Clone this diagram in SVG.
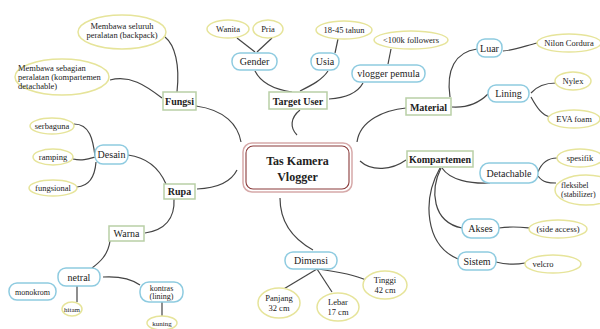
<svg xmlns="http://www.w3.org/2000/svg" width="600" height="329" viewBox="0 0 600 329">
<style>
text{font-family:"Liberation Serif","Times New Roman",serif;fill:#222;text-anchor:middle}
.box rect{fill:#fff;stroke:#b9cfa6;stroke-width:1.5}
.box text{font-weight:bold;font-size:10px}
.pill rect{fill:#fff;stroke:#8ecbe0;stroke-width:1.5}
.pill text{font-size:10px}
.leaf ellipse{fill:#fff;stroke:#e6e49a;stroke-width:1.5}
.leaf text{font-size:8.5px}
.pill text.s8{font-size:8px}
.leaf text.s8{font-size:8px}
.leaf text.s7{font-size:7px}
.st{text-anchor:start}
.conn path,.conn line{fill:none;stroke:#444;stroke-width:1.2}
</style>
<rect width="600" height="329" fill="#fff"/>
<g id="connectors" class="conn">
<path d="M196,106 C225,110 238,125 241,142"/>
<path d="M300,110 C290,118 290,128 297,135"/>
<path d="M406,108 C385,110 360,120 357,142"/>
<path d="M360,161 C372,172 392,170 406,160"/>
<path d="M197,189 C220,188 232,180 237,170"/>
<path d="M280,198 C280,225 295,240 313,250"/>
<path d="M177,92 C180,65 175,45 165,37"/>
<path d="M110,80 C130,75 145,85 162,98"/>
<path d="M255,71 C262,85 278,90 292,92"/>
<path d="M300,91 C312,85 322,80 328,71"/>
<path d="M329,99 C345,98 357,94 363,83"/>
<line x1="388" y1="64" x2="391" y2="49"/>
<line x1="237" y1="38" x2="255" y2="52"/>
<line x1="272" y1="38" x2="257" y2="52"/>
<line x1="338" y1="39" x2="335" y2="53"/>
<path d="M450,97 C446,70 455,52 477,49"/>
<path d="M452,107 C468,108 480,102 488,94"/>
<path d="M503,51 C515,50 525,46 537,43"/>
<path d="M531,93 C538,85 548,83 556,83"/>
<path d="M531,97 C537,108 542,115 550,117"/>
<path d="M442,168 C450,180 470,184 490,183"/>
<path d="M441,168 C430,190 432,222 462,228"/>
<path d="M440,168 C422,200 425,245 458,259"/>
<path d="M538,172 C542,162 548,158 557,158"/>
<path d="M538,176 C543,183 550,183 556,183"/>
<path d="M499,228 C512,226 520,227 530,228"/>
<path d="M496,262 C508,265 515,265 525,263"/>
<path d="M128,155 C150,158 160,170 166,184"/>
<path d="M74,124 C90,124 93,140 95,156"/>
<path d="M73,159 C82,161 88,159 95,157"/>
<path d="M77,187 C90,186 95,175 96,162"/>
<path d="M174,199 C175,218 165,230 145,233"/>
<path d="M110,241 C108,255 100,262 92,268"/>
<path d="M103,277 C120,276 133,280 140,285"/>
<line x1="77" y1="286" x2="77" y2="302"/>
<line x1="162" y1="302" x2="162" y2="316"/>
<line x1="317" y1="269" x2="282" y2="290"/>
<line x1="317" y1="269" x2="332" y2="292"/>
<path d="M318,269 C340,272 355,275 366,280"/>
</g>
<g id="center">
<rect x="243" y="143" width="109" height="49" rx="9" fill="#fff" stroke="#d6a9a9" stroke-width="1.5"/>
<rect x="246" y="146" width="103" height="43" rx="7" fill="none" stroke="#8a3b3b" stroke-width="1.1"/>
<text x="297.5" y="165" font-size="12" font-weight="bold">Tas Kamera</text>
<text x="297.5" y="181" font-size="12" font-weight="bold">Vlogger</text>
</g>
<g id="fungsi" class="box"><rect x="163" y="92" width="33" height="18"/><text x="179.5" y="105">Fungsi</text></g>
<g id="target-user" class="box"><rect x="269" y="92" width="58" height="17"/><text x="298" y="104.5">Target User</text></g>
<g id="material" class="box"><rect x="406" y="98" width="45" height="17"/><text x="428.5" y="110.5">Material</text></g>
<g id="kompartemen" class="box"><rect x="407" y="151" width="66" height="16"/><text x="440" y="163">Kompartemen</text></g>
<g id="rupa" class="box"><rect x="164" y="184" width="31" height="15"/><text x="179.5" y="195">Rupa</text></g>
<g id="warna" class="box"><rect x="109" y="226" width="35" height="15"/><text x="126.5" y="237" style="font-weight:normal">Warna</text></g>
<g id="gender" class="pill"><rect x="232" y="53" width="45" height="17" rx="8"/><text x="254.5" y="65">Gender</text></g>
<g id="usia" class="pill"><rect x="311" y="53" width="28" height="17" rx="8"/><text x="325" y="65">Usia</text></g>
<g id="vlogger-pemula" class="pill"><rect x="352" y="65" width="73" height="17" rx="8"/><text x="388.5" y="77">vlogger pemula</text></g>
<g id="luar" class="pill"><rect x="477" y="39" width="25" height="18" rx="8"/><text x="489.5" y="51.5">Luar</text></g>
<g id="lining" class="pill"><rect x="488" y="85" width="41" height="17" rx="8"/><text x="508.5" y="97">Lining</text></g>
<g id="desain" class="pill"><rect x="95" y="145" width="33" height="19" rx="8"/><text x="111.5" y="158">Desain</text></g>
<g id="detachable" class="pill"><rect x="480" y="163" width="58" height="20" rx="9"/><text x="509" y="176.5">Detachable</text></g>
<g id="akses" class="pill"><rect x="462" y="219" width="37" height="19" rx="9"/><text x="480.5" y="232">Akses</text></g>
<g id="sistem" class="pill"><rect x="458" y="252" width="38" height="18" rx="8"/><text x="477" y="264.5">Sistem</text></g>
<g id="netral" class="pill"><rect x="58" y="268" width="42" height="18" rx="8"/><text x="79" y="280.5">netral</text></g>
<g id="monokrom" class="pill"><rect x="9" y="283" width="47" height="17" rx="8"/><text class="s8" x="32.5" y="294.5">monokrom</text></g>
<g id="kontras" class="pill"><rect x="140" y="282" width="43" height="20" rx="9"/><text class="s8" x="161.5" y="290.5">kontras</text><text class="s8" x="161.5" y="299">(lining)</text></g>
<g id="dimensi" class="pill"><rect x="285" y="252" width="52" height="17" rx="8"/><text x="311" y="264">Dimensi</text></g>
<g id="backpack" class="leaf"><ellipse cx="122" cy="32" rx="44" ry="17"/><text x="122" y="29">Membawa seluruh</text><text x="122" y="38">peralatan (backpack)</text></g>
<g id="sebagian" class="leaf"><ellipse cx="62" cy="77" rx="47" ry="18"/><text class="st" x="18" y="71">Membawa sebagian</text><text class="st" x="18" y="80">peralatan (kompartemen</text><text class="st" x="18" y="89">detachable)</text></g>
<g id="wanita" class="leaf"><ellipse cx="228" cy="29" rx="21" ry="9"/><text x="228" y="32">Wanita</text></g>
<g id="pria" class="leaf"><ellipse cx="268" cy="29" rx="15" ry="9"/><text x="268" y="32">Pria</text></g>
<g id="usia-range" class="leaf"><ellipse cx="344" cy="30" rx="28" ry="9"/><text x="344" y="33">18-45 tahun</text></g>
<g id="followers" class="leaf"><ellipse cx="411" cy="40" rx="37" ry="9"/><text x="411" y="43">&lt;100k followers</text></g>
<g id="nilon" class="leaf"><ellipse cx="569" cy="43" rx="32" ry="9"/><text x="569" y="46">Nilon Cordura</text></g>
<g id="nylex" class="leaf"><ellipse cx="573" cy="81" rx="18" ry="9"/><text x="573" y="84">Nylex</text></g>
<g id="eva" class="leaf"><ellipse cx="574" cy="119" rx="26" ry="9"/><text x="574" y="122">EVA foam</text></g>
<g id="serbaguna" class="leaf"><ellipse cx="52" cy="126" rx="22" ry="8"/><text x="52" y="129">serbaguna</text></g>
<g id="ramping" class="leaf"><ellipse cx="53" cy="157" rx="20" ry="8"/><text x="53" y="160">ramping</text></g>
<g id="fungsional" class="leaf"><ellipse cx="53" cy="188" rx="24" ry="8"/><text x="53" y="191">fungsional</text></g>
<g id="spesifik" class="leaf"><ellipse cx="580" cy="158" rx="23" ry="9"/><text x="580" y="161">spesifik</text></g>
<g id="fleksibel" class="leaf"><ellipse cx="586" cy="190" rx="31" ry="15"/><text class="st s8" x="561" y="188">fleksibel</text><text class="st s8" x="561" y="197">(stabilizer)</text></g>
<g id="side-access" class="leaf"><ellipse cx="558" cy="229" rx="29" ry="9"/><text x="558" y="232">(side access)</text></g>
<g id="velcro" class="leaf"><ellipse cx="553" cy="264" rx="28" ry="9"/><text x="543" y="267">velcro</text></g>
<g id="hitam" class="leaf"><ellipse cx="72" cy="309" rx="10" ry="7"/><text class="s7" x="72" y="312">hitam</text></g>
<g id="kuning" class="leaf"><ellipse cx="162" cy="323" rx="15" ry="7"/><text class="s7" x="162" y="326">kuning</text></g>
<g id="panjang" class="leaf"><ellipse cx="279" cy="303" rx="21" ry="15"/><text x="279" y="301">Panjang</text><text x="279" y="311">32 cm</text></g>
<g id="lebar" class="leaf"><ellipse cx="338" cy="307" rx="21" ry="14"/><text x="338" y="305">Lebar</text><text x="338" y="315">17 cm</text></g>
<g id="tinggi" class="leaf"><ellipse cx="385" cy="285" rx="22" ry="14"/><text x="385" y="283">Tinggi</text><text x="385" y="293">42 cm</text></g>
</svg>
